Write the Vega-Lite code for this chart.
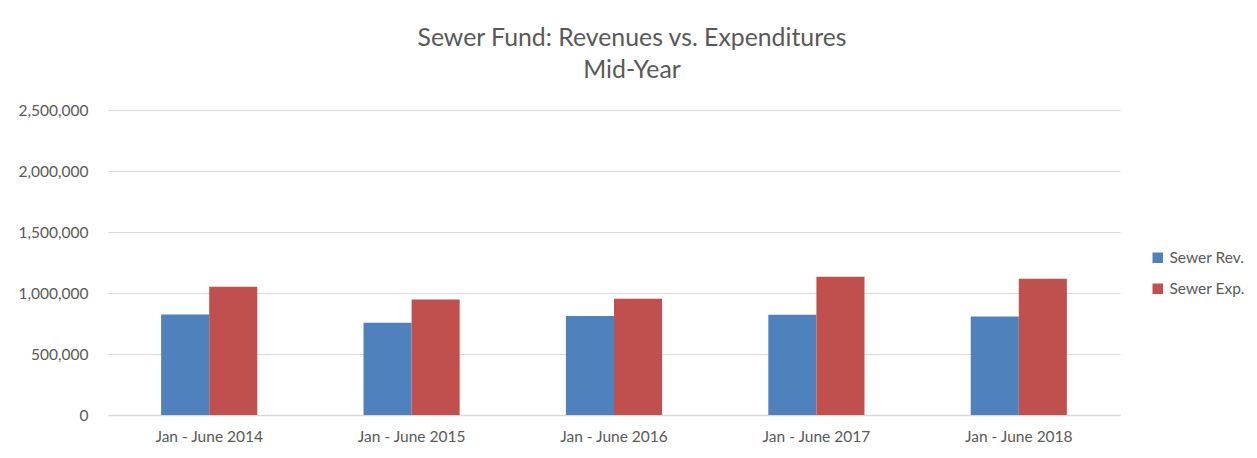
{
  "$schema": "https://vega.github.io/schema/vega-lite/v6.json",
  "autosize": {"type": "none"},
  "width": 1012,
  "height": 305,
  "padding": {"left": 108, "top": 110, "right": 137, "bottom": 43},
  "background": "white",
  "title": {
    "text": ["Sewer Fund: Revenues vs. Expenditures", "Mid-Year"],
    "fontSize": 24.8,
    "font": "Lato",
    "fontWeight": "normal",
    "color": "#595959",
    "lineHeight": 32,
    "anchor": "middle",
    "dx": 18,
    "offset": 20
  },
  "data": {
    "values": [
      {"period": "Jan - June 2014", "series": "Sewer Rev.", "value": 823000},
      {"period": "Jan - June 2014", "series": "Sewer Exp.", "value": 1052000},
      {"period": "Jan - June 2015", "series": "Sewer Rev.", "value": 757000},
      {"period": "Jan - June 2015", "series": "Sewer Exp.", "value": 946000},
      {"period": "Jan - June 2016", "series": "Sewer Rev.", "value": 811000},
      {"period": "Jan - June 2016", "series": "Sewer Exp.", "value": 953000},
      {"period": "Jan - June 2017", "series": "Sewer Rev.", "value": 822000},
      {"period": "Jan - June 2017", "series": "Sewer Exp.", "value": 1134000},
      {"period": "Jan - June 2018", "series": "Sewer Rev.", "value": 808000},
      {"period": "Jan - June 2018", "series": "Sewer Exp.", "value": 1117000}
    ]
  },
  "mark": {"type": "bar"},
  "encoding": {
    "x": {
      "field": "period",
      "type": "nominal",
      "title": null,
      "scale": {"paddingInner": 0.525, "paddingOuter": 0.2625},
      "axis": {
        "labelAngle": 0,
        "labelFont": "Lato",
        "labelFontSize": 15.5,
        "labelColor": "#595959",
        "labelPadding": 14,
        "ticks": false,
        "domainColor": "#d9d9d9",
        "domainWidth": 1.5,
        "grid": false
      }
    },
    "xOffset": {"field": "series", "type": "nominal", "sort": ["Sewer Rev.", "Sewer Exp."]},
    "y": {
      "field": "value",
      "type": "quantitative",
      "title": null,
      "scale": {"domain": [0, 2500000], "nice": false},
      "axis": {
        "values": [0, 500000, 1000000, 1500000, 2000000, 2500000],
        "format": ",d",
        "labelFont": "Lato",
        "labelFontSize": 15.5,
        "labelColor": "#595959",
        "labelPadding": 20,
        "ticks": false,
        "domain": false,
        "gridColor": "#d9d9d9",
        "gridWidth": 1
      }
    },
    "color": {
      "field": "series",
      "type": "nominal",
      "scale": {"domain": ["Sewer Rev.", "Sewer Exp."], "range": ["#4F81BD", "#C0504D"]},
      "legend": {
        "title": null,
        "orient": "none",
        "legendX": 1042,
        "legendY": 140,
        "symbolType": "square",
        "symbolSize": 110,
        "symbolStrokeWidth": 0,
        "labelFont": "Lato",
        "labelFontSize": 15.5,
        "labelColor": "#595959",
        "rowPadding": 14,
        "labelOffset": 4
      }
    }
  },
  "config": {"view": {"stroke": null}}
}
